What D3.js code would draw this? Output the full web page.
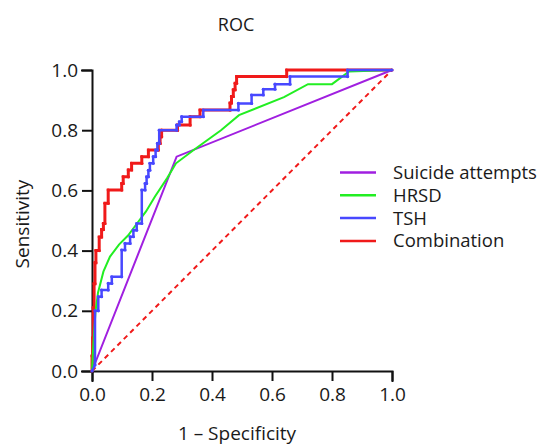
<!DOCTYPE html>
<html><head><meta charset="utf-8">
<script src="https://cdn.jsdelivr.net/npm/d3@7"></script>
<style>body{margin:0;background:#fff}svg text{font-family:"Open Sans",sans-serif;fill:#1a1a1a}</style>
</head><body><svg id="c" width="551" height="448"></svg>
<script>
const title = "ROC";
const xLabel = "1 \u2013 Specificity";
const yLabel = "Sensitivity";
const tickValues = [0, 0.2, 0.4, 0.6, 0.8, 1.0];
const seriesNames = ["Suicide attempts", "HRSD", "TSH", "Combination"];
const seriesColors = ["#a01fe0", "#22ee22", "#4848ff", "#f01a1a"];

const suicideFpr = [0, 0.282, 1];
const suicideTpr = [0, 0.712, 1];

const hrsdFpr = [0, 0.003, 0.007, 0.012, 0.02, 0.038, 0.06, 0.09, 0.12, 0.15, 0.18, 0.21, 0.25, 0.28, 0.34, 0.43, 0.49, 0.64, 0.72, 0.80, 0.857, 1];
const hrsdTpr = [0, 0.06, 0.13, 0.2, 0.26, 0.33, 0.38, 0.42, 0.45, 0.49, 0.53, 0.58, 0.64, 0.69, 0.735, 0.80, 0.85, 0.91, 0.953, 0.953, 0.995, 1];

const tshFpr = [0, 0.01, 0.01, 0.021, 0.021, 0.032, 0.032, 0.054, 0.054, 0.066, 0.066, 0.099, 0.099, 0.11, 0.11, 0.127, 0.127, 0.138, 0.138, 0.149, 0.149, 0.166, 0.166, 0.177, 0.177, 0.182, 0.182, 0.188, 0.188, 0.193, 0.193, 0.204, 0.204, 0.212, 0.212, 0.218, 0.218, 0.224, 0.224, 0.282, 0.282, 0.291, 0.291, 0.299, 0.299, 0.371, 0.371, 0.488, 0.488, 0.532, 0.532, 0.571, 0.571, 0.61, 0.61, 0.66, 0.66, 0.852, 0.852, 1];
const tshTpr = [0, 0.02, 0.2, 0.2, 0.247, 0.247, 0.269, 0.269, 0.291, 0.291, 0.313, 0.313, 0.402, 0.402, 0.424, 0.424, 0.446, 0.446, 0.468, 0.468, 0.49, 0.49, 0.601, 0.601, 0.623, 0.623, 0.645, 0.645, 0.667, 0.667, 0.69, 0.69, 0.712, 0.712, 0.734, 0.734, 0.756, 0.756, 0.80, 0.80, 0.817, 0.817, 0.828, 0.828, 0.845, 0.845, 0.867, 0.867, 0.889, 0.889, 0.917, 0.917, 0.936, 0.936, 0.953, 0.953, 0.978, 0.978, 1, 1];

const combFpr = [0, 0, 0.002, 0.002, 0.004, 0.004, 0.007, 0.007, 0.01, 0.01, 0.013, 0.013, 0.024, 0.024, 0.032, 0.032, 0.038, 0.038, 0.043, 0.043, 0.054, 0.054, 0.099, 0.099, 0.104, 0.104, 0.121, 0.121, 0.132, 0.132, 0.166, 0.166, 0.188, 0.188, 0.221, 0.221, 0.227, 0.227, 0.232, 0.232, 0.285, 0.285, 0.327, 0.327, 0.36, 0.36, 0.46, 0.46, 0.465, 0.465, 0.471, 0.471, 0.477, 0.477, 0.482, 0.482, 0.649, 0.649, 1];
const combTpr = [0, 0.05, 0.05, 0.11, 0.11, 0.21, 0.21, 0.29, 0.29, 0.36, 0.36, 0.40, 0.40, 0.445, 0.445, 0.47, 0.47, 0.49, 0.49, 0.557, 0.557, 0.601, 0.601, 0.623, 0.623, 0.645, 0.645, 0.668, 0.668, 0.69, 0.69, 0.712, 0.712, 0.734, 0.734, 0.756, 0.756, 0.778, 0.778, 0.80, 0.80, 0.817, 0.817, 0.845, 0.845, 0.867, 0.867, 0.89, 0.89, 0.912, 0.912, 0.934, 0.934, 0.956, 0.956, 0.978, 0.978, 1, 1];

const refFpr = [0, 1];
const refTpr = [0, 1];

const svg = d3.select("#c");
const x = d3.scaleLinear().domain([0, 1]).range([92, 392]);
const y = d3.scaleLinear().domain([0, 1]).range([371, 70]);
const zip = (a, b) => a.map((v, i) => [v, b[i]]);
const line = d3.line().x(d => x(d[0])).y(d => y(d[1]));

const fontSize = 19;

svg.append("text").attr("x", 236).attr("y", 31).attr("text-anchor", "middle")
  .attr("font-size", 18).text(title);

// axes
const xAxis = svg.append("g").attr("transform", `translate(0,${y(0)})`)
  .call(d3.axisBottom(x).tickValues(tickValues).tickFormat(d3.format(".1f")).tickSizeOuter(0).tickSize(10).tickPadding(7));
const yAxis = svg.append("g").attr("transform", `translate(${x(0)},0)`)
  .call(d3.axisLeft(y).tickValues(tickValues).tickFormat(d3.format(".1f")).tickSizeOuter(0).tickSize(10).tickPadding(4));
[xAxis, yAxis].forEach(g => {
  g.select(".domain").attr("stroke", "#111").attr("stroke-width", 2).attr("stroke-linecap", "square");
  g.selectAll(".tick line").attr("stroke", "#111").attr("stroke-width", 2);
  g.selectAll(".tick text").attr("font-size", fontSize).attr("font-family", '"Open Sans",sans-serif').attr("fill", "#222");
});

svg.append("text").attr("x", 237).attr("y", 440).attr("text-anchor", "middle")
  .attr("font-size", fontSize).text(xLabel);
svg.append("text").attr("transform", "translate(29,224) rotate(-90)").attr("text-anchor", "middle")
  .attr("font-size", fontSize).text(yLabel);

// reference diagonal
svg.append("path").datum(zip(refFpr, refTpr)).attr("d", line)
  .attr("fill", "none").attr("stroke", "#f01a1a").attr("stroke-width", 2).attr("stroke-dasharray", "5,4");

const series = [
  {fpr: combFpr, tpr: combTpr, c: seriesColors[3], w: 3, dots: true},
  {fpr: suicideFpr, tpr: suicideTpr, c: seriesColors[0], w: 2, dots: false},
  {fpr: hrsdFpr, tpr: hrsdTpr, c: seriesColors[1], w: 2, dots: false},
  {fpr: tshFpr, tpr: tshTpr, c: seriesColors[2], w: 2.5, dots: true}
];
series.forEach(s => {
  const pts = zip(s.fpr, s.tpr);
  svg.append("path").datum(pts).attr("d", line).attr("fill", "none")
    .attr("stroke", s.c).attr("stroke-width", s.w).attr("stroke-linejoin", "miter");
  if (s.dots) {
    svg.append("g").selectAll("circle").data(pts).join("circle")
      .attr("cx", d => x(d[0])).attr("cy", d => y(d[1])).attr("r", 1.6).attr("fill", s.c);
  }
});

// legend
const leg = svg.append("g");
seriesNames.forEach((n, i) => {
  const ly = 172.5 + i * 22.8;
  leg.append("line").attr("x1", 340).attr("x2", 376).attr("y1", ly).attr("y2", ly)
    .attr("stroke", seriesColors[i]).attr("stroke-width", 2.5);
  leg.append("text").attr("x", 393).attr("y", ly).attr("dy", "0.35em")
    .attr("font-size", 18.5).text(n);
});
</script></body></html>
